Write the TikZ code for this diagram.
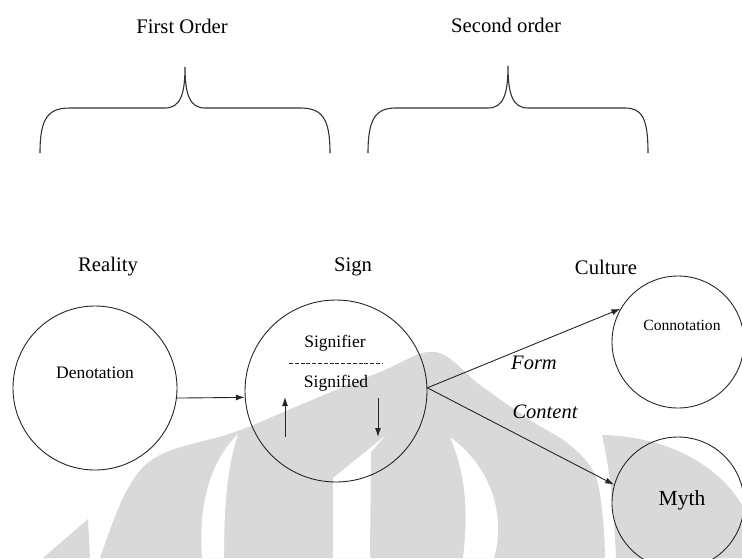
\documentclass[tikz,border=0pt]{standalone}
\usepackage{fontspec}
\setmainfont{Liberation Serif}
\usetikzlibrary{arrows.meta}
\begin{document}
\begin{tikzpicture}[x=1pt,y=-1pt,
  ring/.style={draw=black!85, line width=0.9pt, circle, inner sep=0pt},
  link/.style={draw=black!85, line width=0.9pt, -{Latex[length=9pt,width=6pt]}},
  curly/.style={draw=black!80, line width=1.1pt},
  wm/.style={fill=black!15, draw=none},
  wmcut/.style={fill=white, draw=none},
  head/.style={font=\fontsize{20.7}{24}\selectfont, inner sep=0pt},
  inner/.style={font=\fontsize{17.5}{20}\selectfont, inner sep=0pt},
  small/.style={font=\fontsize{15.6}{18}\selectfont, inner sep=0pt},
  edgelbl/.style={font=\fontsize{20.5}{24}\selectfont\itshape, inner sep=0pt}
]
\useasboundingbox (0,0) rectangle (742,558);

% ---------- watermark ----------
\fill[wm] (43,558) -- (88,519) -- (90,558) -- cycle;
\fill[wm] plot[smooth, tension=0.6] coordinates {(100,558) (127,490) (160,455) (235,432) (300,405) (380,372) (435,352) (480,385) (530,420) (570,445) (595,475) (603,520) (605,558)} -- cycle;
\fill[wmcut] (238,434) .. controls (212,460) and (198,500) .. (202,558) -- (224,558) .. controls (224,500) and (228,465) .. (238,434) -- cycle;
\fill[wmcut] (385,436) -- (333,478) -- (333,558) -- (370,558) -- (371,452) -- cycle;
\fill[wmcut] (450,437) .. controls (462,465) and (470,500) .. (463,558) -- (494,558) .. controls (505,520) and (495,470) .. (450,437) -- cycle;
\fill[wm] (602,435) .. controls (660,436) and (715,460) .. (742,505) -- (742,558) -- (616,558) .. controls (614,510) and (610,470) .. (602,435) -- cycle;

% ---------- braces ----------
\node[head] (first) at (182,26) {First Order};
\node[head] (second) at (506,25) {Second order};
\draw[curly] (40,153) .. controls (40,118) and (48,108) .. (70,108) -- (165,108)
  .. controls (180,108) and (185,95) .. (185,67)
  .. controls (185,95) and (190,108) .. (205,108) -- (300,108)
  .. controls (322,108) and (330,118) .. (330,153);
\draw[curly] (368,153) .. controls (368,118) and (376,108) .. (396,108) -- (488,108)
  .. controls (503,108) and (508,95) .. (508,66)
  .. controls (508,95) and (513,108) .. (528,108) -- (625,108)
  .. controls (642,108) and (648,118) .. (648,153);

% ---------- column heads ----------
\node[head] (reality) at (108,267) {Reality};
\node[head] (signhd) at (353,267) {Sign};
\node[head] (culture) at (606,267) {Culture};

% ---------- circles ----------
\node[ring, minimum size=164pt] (denot) at (95,388) {};
\node[ring, minimum size=182pt] (sign) at (336,391) {};
\node[ring, minimum size=132pt] (conn) at (678,342) {};
\node[ring, minimum size=132pt] (myth) at (678,503) {};

\node[inner] (denottxt) at (95,373) {Denotation};
\node[inner] (signifier) at (335,343) {Signifier};
\node[inner] (signified) at (336,383) {Signified};
\node[small] (conntxt) at (682,325) {Connotation};
\node[head, font=\fontsize{21.5}{24}\selectfont] (mythtxt) at (682,500) {Myth};

\coordinate (dashL) at (289,363);
\coordinate (dashR) at (382,363);
\draw[black!85, line width=0.8pt, dash pattern=on 4pt off 1.8pt] (dashL) -- (dashR);

\coordinate (upS) at (285,437);
\coordinate (upE) at (285,397);
\coordinate (dnS) at (378,398);
\coordinate (dnE) at (378,437);
\draw[link] (upS) -- (upE);
\draw[link] (dnS) -- (dnE);

% ---------- connectors ----------
\draw[link] (denot.-7) -- (sign.184.4);
\coordinate (fork) at (sign.2.5);
\draw[link] (fork) -- (conn.150);
\draw[link] (fork) -- (myth.164);

\node[edgelbl] (form) at (534,363) {Form};
\node[edgelbl] (content) at (545,412) {Content};
\end{tikzpicture}
\end{document}
